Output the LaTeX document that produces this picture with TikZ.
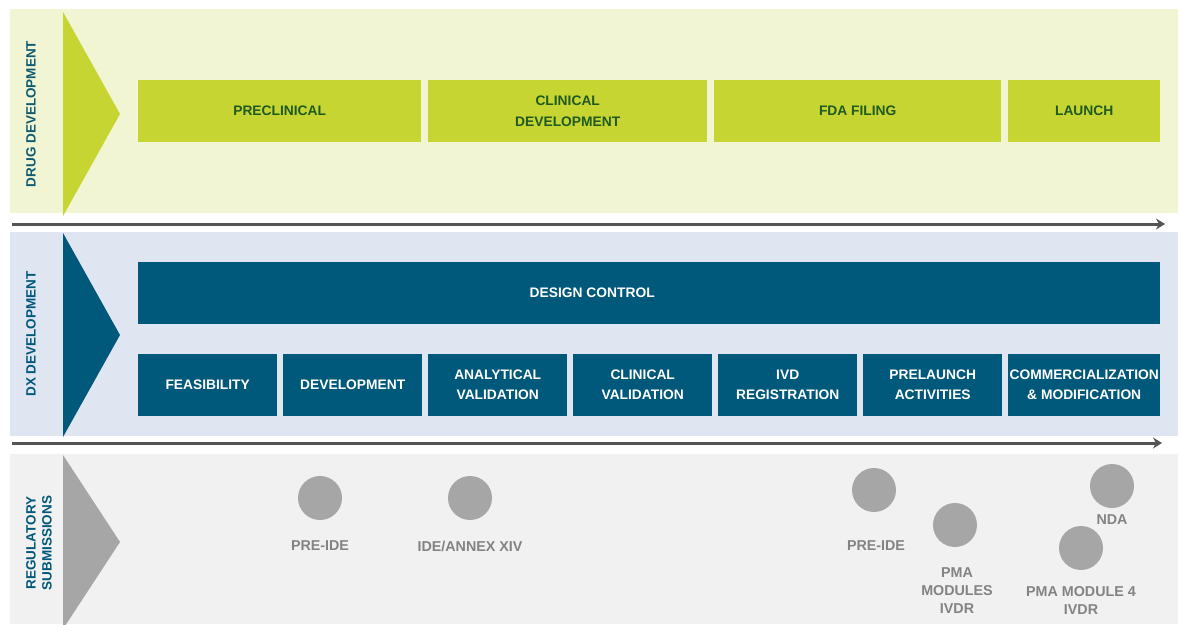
\documentclass[tikz,border=0pt]{standalone}
\usepackage{fontspec}
\setmainfont{Liberation Sans}
\usetikzlibrary{arrows.meta}

\definecolor{druglight}{HTML}{F1F5D3}
\definecolor{druggreen}{HTML}{C6D531}
\definecolor{drugtext}{HTML}{1F5A22}
\definecolor{dxlight}{HTML}{DFE6F2}
\definecolor{dxblue}{HTML}{00587A}
\definecolor{reglight}{HTML}{F1F1F1}
\definecolor{reggray}{HTML}{A6A6A6}
\definecolor{regtext}{HTML}{838383}
\definecolor{timeline}{HTML}{555555}
\definecolor{lanetext}{HTML}{0E5C74}

\tikzset{
	drugbox/.style={fill=druggreen, text=drugtext, font=\bfseries\fontsize{13.8}{21}\selectfont, align=center, anchor=north west, minimum height=62pt, inner sep=0pt},
	dxbox/.style={fill=dxblue, text=white, font=\bfseries\fontsize{13.8}{20}\selectfont, align=center, anchor=north west, minimum height=62pt, inner sep=0pt},
	milestone/.style={circle, fill=reggray, minimum size=44pt, inner sep=0pt},
	mlabel/.style={text=regtext, font=\bfseries\fontsize{14.3}{18}\selectfont, align=center},
	lanelabel/.style={rotate=90, font=\bfseries\fontsize{13.5}{16}\selectfont, align=center},
	timearrow/.style={line width=3pt, draw=timeline, -{Stealth[length=9pt,width=11pt]}}
}

\begin{document}
\begin{tikzpicture}[x=1pt, y=-1pt]
			\useasboundingbox (0,0) rectangle (1182,624);

			% lanes
			\fill[druglight] (10,9) rectangle (1178,213);
			\fill[dxlight] (10,232) rectangle (1178,436);
			\fill[reglight] (10,454) rectangle (1178,624);

			\fill[druggreen] (63,12) -- (120,114) -- (63,216) -- cycle;
			\fill[dxblue] (63,233) -- (120,335) -- (63,437) -- cycle;
			\begin{scope}
				\clip (0,0) rectangle (1182,624);
				\fill[reggray] (63,455) -- (120,542) -- (63,629) -- cycle;
			\end{scope}

			\node[lanelabel, text=lanetext] (druglane) at (31,114) {DRUG DEVELOPMENT};
			\node[lanelabel, text=dxblue] (dxlane) at (31,334) {DX DEVELOPMENT};
			\node[lanelabel, text=dxblue] (reglane) at (39,543) {REGULATORY\\SUBMISSIONS};

			% drug development
			\node[drugbox, minimum width=283pt] (preclin) at (138,80) {PRECLINICAL};
			\node[drugbox, minimum width=279pt] (clindev) at (428,80) {CLINICAL\\DEVELOPMENT};
			\node[drugbox, minimum width=287pt] (fdafiling) at (714,80) {FDA FILING};
			\node[drugbox, minimum width=152pt] (launch) at (1008,80) {LAUNCH};

			\coordinate (t1start) at (12,224);
			\coordinate (t1end) at (1165,224);
			\draw[timearrow] (t1start) -- (t1end);

			% dx development
			\node[dxbox, minimum width=1022pt] (designctrl) at (138,262) {};
			\node[dxbox, fill=none, anchor=center, minimum height=0pt, xshift=-57pt] (designctrllbl) at (designctrl.center) {DESIGN CONTROL};
			\foreach \x/\w/\name/\txt in {
				138/139/feas/{FEASIBILITY},
				283/139/devel/{DEVELOPMENT},
				428/139/anval/{ANALYTICAL\\VALIDATION},
				573/139/clinval/{CLINICAL\\VALIDATION},
				718/139/ivdreg/{IVD\\REGISTRATION},
				863/139/prelaunch/{PRELAUNCH\\ACTIVITIES},
				1008/152/commerc/{COMMERCIALIZATION\\\& MODIFICATION}}
			{
				\node[dxbox, minimum width=\w pt] (\name) at (\x,354) {\txt};
			}

			\coordinate (t2start) at (12,443);
			\coordinate (t2end) at (1162,443);
			\draw[timearrow] (t2start) -- (t2end);

			% regulatory submissions
			\node[milestone] (preide) at (320,498) {};
			\node[mlabel] (preidelbl) at (320,546) {PRE-IDE};
			\node[milestone] (ide) at (470,498) {};
			\node[mlabel] (idelbl) at (470,546) {IDE/ANNEX XIV};
			\node[milestone] (preidetwo) at (874,490) {};
			\node[mlabel] (preidetwolbl) at (876,546) {PRE-IDE};
			\node[milestone] (pma) at (955,525) {};
			\node[mlabel] (pmalbl) at (957,591) {PMA\\MODULES\\IVDR};
			\node[milestone] (nda) at (1112,486) {};
			\node[mlabel] (ndalbl) at (1112,520) {NDA};
			\node[milestone] (pmafour) at (1081,548) {};
			\node[mlabel] (pmafourlbl) at (1081,600) {PMA MODULE 4\\IVDR};
		\end{tikzpicture}
\end{document}
